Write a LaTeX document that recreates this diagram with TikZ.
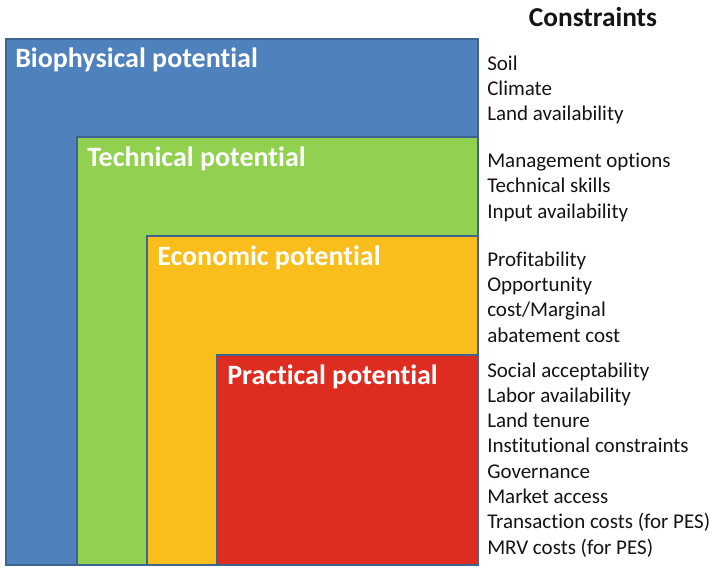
\documentclass[tikz,border=0pt]{standalone}
\usepackage{fontspec}
\setmainfont[Ligatures={NoCommon}]{Carlito}
\definecolor{bioblue}{RGB}{79,129,189}
\definecolor{techgreen}{RGB}{146,208,80}
\definecolor{econorange}{RGB}{249,190,27}
\definecolor{practred}{RGB}{222,44,32}
\definecolor{edgeblue}{RGB}{62,100,148}
\definecolor{listblack}{RGB}{20,20,20}
\tikzset{
  potbox/.style={draw=edgeblue,line width=1.1pt},
  potlabel/.style={anchor=base west,inner sep=0pt,text=white,font=\fontsize{21}{25}\selectfont\bfseries},
  constr/.style={anchor=base west,inner sep=0pt,text=listblack,font=\fontsize{15.75}{19}\selectfont}
}
\begin{document}
\begin{tikzpicture}[x=0.75pt,y=-0.75pt]
    \useasboundingbox (0,0) rectangle (713,567);
    \begin{scope}
      % nested potentials
      \draw[potbox,fill=bioblue] (6,39) rectangle (478,565);
      \draw[potbox,fill=techgreen] (77,137) rectangle (478,565);
      \draw[potbox,fill=econorange] (147,236) rectangle (478,565);
      \draw[potbox,fill=practred] (217,355) rectangle (478,565);

      \node[potlabel] (bio) at (15,68) {Biophysical potential};
      \node[potlabel] (tech) at (87,166) {Technical potential};
      \node[potlabel] (econ) at (157,265) {Economic potential};
      \node[potlabel] (pract) at (227,384) {Practical potential};

      % constraints column
      \node[anchor=base,inner sep=0pt,text=listblack,font=\fontsize{20.5}{25}\selectfont\bfseries] (title) at (593,27) {Constraints};

      \node[constr] (soil) at (487,70) {Soil};
      \node[constr] (climate) at (487,95.2) {Climate};
      \node[constr] (land) at (487,120.4) {Land availability};

      \node[constr] (mgmt) at (487,167) {Management options};
      \node[constr] (skills) at (487,192.5) {Technical skills};
      \node[constr] (input) at (487,218) {Input availability};

      \node[constr] (profit) at (487,266) {Profitability};
      \node[constr] (oppo) at (487,291.3) {Opportunity};
      \node[constr] (marg) at (487,316.6) {cost/Marginal};
      \node[constr] (abate) at (487,342) {abatement cost};

      \node[constr] (social) at (487,377) {Social acceptability};
      \node[constr] (labor) at (487,402.3) {Labor availability};
      \node[constr] (tenure) at (487,427.6) {Land tenure};
      \node[constr] (inst) at (487,452.9) {Institutional constraints};
      \node[constr] (gov) at (487,478.2) {Governance};
      \node[constr] (market) at (487,503.5) {Market access};
      \node[constr] (trans) at (487,528.8) {Transaction costs (for PES)};
      \node[constr] (mrv) at (487,554.1) {MRV costs (for PES)};
    \end{scope}
\end{tikzpicture}
\end{document}
